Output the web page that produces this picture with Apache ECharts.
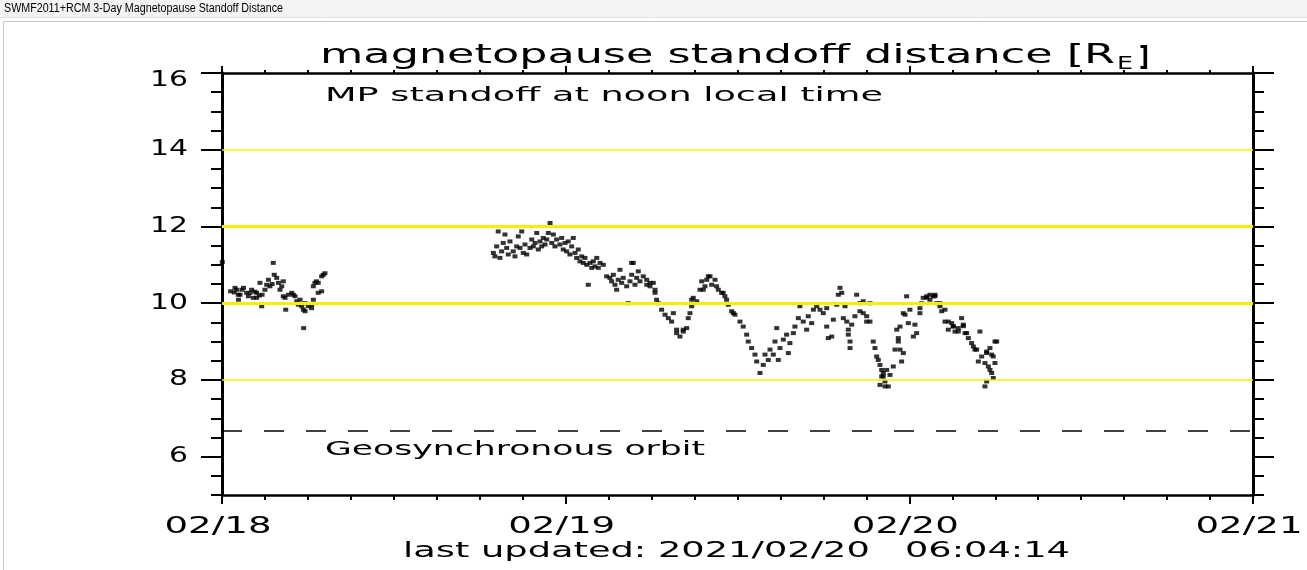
<!DOCTYPE html>
<html>
<head>
<meta charset="utf-8">
<script src="https://cdn.jsdelivr.net/npm/echarts@6/dist/echarts.min.js"></script>
<style>
  html, body { margin: 0; padding: 0; background: #fff; }
  #c { width: 1307px; height: 570px; }
</style>
</head>
<body>
<div id="c"></div>
<script>
// ---- data (hours since 2021-02-18 00:00 UT, standoff distance in R_E) ----
const dayTicks = [0, 24, 48, 72];
const dayLabels = ['02/18', '02/19', '02/20', '02/21'];
const yMajor = [6, 8, 10, 12, 14, 16];
const yLabels = ['6', '8', '10', '12', '14', '16'];
const thinLevels = [8, 14];
const thickLevels = [10, 12];
const geosyncLevel = 6.67;

const segmentA = [
  [0.02,11.07],[0.6,10.31],[0.85,10.28],[0.91,10.40],[1.03,10.35],[1.14,10.22],[1.15,10.09],[1.26,10.22],[1.4,10.35],[1.5,10.40],
  [1.72,10.27],[1.84,10.18],[1.96,10.27],[2.07,10.35],[2.19,10.14],[2.3,10.30],[2.42,10.27],[2.42,10.14],[2.6,10.20],
  [2.65,10.53],[2.77,9.92],[2.8,10.22],[3.0,10.35],[3.12,10.48],[3.24,10.61],[3.35,10.44],[3.5,10.50],
  [3.58,11.05],[3.65,10.74],[3.82,10.66],[3.94,10.53],[4.05,10.35],[4.17,10.44],[4.28,10.57],[4.28,10.18],[4.4,10.14],[4.45,9.83],
  [4.63,10.22],[4.87,10.27],[4.98,10.22],[5.1,10.18],[5.22,10.05],[5.33,9.96],[5.45,10.09],[5.57,9.92],[5.68,9.83],[5.7,9.35],
  [5.8,10.0],[5.8,9.79],[6.03,9.92],[6.26,9.96],[6.26,9.87],[6.38,10.44],[6.38,10.09],[6.49,10.53],[6.6,10.57],[6.72,10.27],[6.72,10.53],
  [6.96,10.70],[6.96,10.31],[7.07,10.74],[7.19,10.78]
];

const segmentB = [
  [18.95,11.31],[19.06,11.22],[19.18,11.48],[19.29,11.87],[19.41,11.18],[19.53,11.35],[19.64,11.57],[19.76,11.79],
  [19.88,11.44],[19.99,11.27],[20.11,11.61],[20.34,11.35],[20.46,11.22],[20.58,11.48],[20.69,11.74],[20.81,11.44],
  [20.93,11.87],[21.04,11.31],[21.16,11.53],[21.28,11.27],[21.51,11.44],[21.63,11.66],[21.74,11.48],[21.86,11.57],
  [21.98,11.83],[22.09,11.40],[22.21,11.61],[22.33,11.48],[22.44,11.70],[22.56,11.53],[22.68,11.66],[22.79,11.83],
  [22.91,12.09],[23.03,11.57],[23.14,11.79],[23.25,11.48],[23.37,11.66],[23.60,11.53],[23.72,11.70],[23.83,11.40],
  [23.95,11.57],[24.07,11.35],[24.18,11.61],[24.30,11.27],[24.42,11.48],[24.53,11.70],[24.65,11.31],[24.77,11.18],
  [24.88,11.40],[25.00,11.09],[25.12,11.22],[25.23,11.05],[25.35,11.18],[25.47,11.00],[25.58,10.48],[25.70,11.05],
  [25.82,10.92],[25.93,11.09],[26.05,10.96],[26.17,11.18],[26.28,10.92],[26.40,11.05],[26.63,11.00],[26.86,10.70],
  [27.09,10.66],[27.21,10.57],[27.33,10.74],[27.44,10.48],[27.56,10.35],[27.67,10.61],[27.79,10.87],[27.91,10.53],
  [28.02,10.66],[28.26,10.44],[28.37,10.00],[28.49,10.57],[28.61,10.74],[28.61,11.05],[28.72,11.05],[28.84,10.48],[28.96,10.66],
  [29.07,10.83],[29.19,10.57],[29.42,10.70],[29.66,10.48],[29.66,10.61],[29.89,10.53],[29.89,10.44],[30.12,10.53],[30.24,10.27],[30.24,10.35],[30.35,10.09],
  [30.47,10.00],[30.70,9.83],[30.94,9.70],[31.17,9.61],[31.40,9.52],[31.52,9.74],[31.75,9.31],[31.75,9.22],[31.98,9.13],
  [32.21,9.26],[32.21,9.31],[32.45,9.35],[32.56,9.61],[32.68,9.74],[32.80,9.92],[32.80,10.09],[32.91,10.14],[33.15,10.05],[33.38,10.35],
  [33.50,10.57],[33.61,10.35],[33.73,10.44],[33.85,10.61],[33.96,10.70],[34.08,10.70],[34.20,10.48],[34.43,10.61],[34.54,10.44],[34.66,10.35],[34.89,10.27],
  [35.0,10.27],[35.12,10.18],[35.24,10.09],
  [35.36,9.96],[35.59,9.79],[35.71,9.74],[35.82,9.70],[36.17,9.52],[36.40,9.39],[36.64,9.18],[36.75,9.00],[36.99,8.83],
  [37.22,8.66],[37.34,8.48],[37.57,8.18],[37.80,8.39],[37.92,8.66],[38.15,8.52],[38.27,8.79],[38.50,8.66],
  [38.62,9.00],[38.74,9.35],[38.85,8.52],[38.97,8.83],[39.20,9.05],[39.43,9.18],[39.55,8.70],[39.66,8.96],
  [39.90,9.22],[40.01,9.39],[40.25,9.61],[40.36,9.92],[40.59,9.52],[40.83,9.31],[40.94,9.66],[41.18,9.48],
  [41.30,9.83],[41.53,9.92],[41.76,9.83],[41.99,9.74],[42.23,9.39],[42.23,9.87],[42.34,9.09],[42.58,9.13],[42.69,9.57],
  [42.93,9.96],[43.04,10.22],[43.16,10.40],[43.28,10.27],[43.39,9.61],[43.51,9.92],[43.63,9.52],[43.74,9.18],[43.74,9.31],
  [43.86,8.83],[43.86,9.00],[43.97,9.44],[44.20,9.66],[44.32,10.22],[44.55,9.79],[44.55,10.00],[44.78,10.05],[44.78,9.74],
  [45.02,9.66],[45.02,9.52],[45.25,9.52],[45.25,10.00],
  [45.48,9.00],[45.60,8.83],[45.72,8.61],[45.83,8.52],[45.95,8.39],[45.95,7.87],[46.07,8.09],[46.07,8.26],[46.18,8.18],[46.18,8.09],[46.30,7.96],[46.30,7.83],
  [46.42,8.26],[46.53,7.83],[46.65,8.13],[46.88,8.35],[47.00,8.79],[47.12,9.31],[47.23,9.09],[47.23,9.00],[47.35,9.39],[47.35,8.79],
  [47.46,8.48],[47.58,8.70],[47.58,9.74],[47.70,9.70],[47.81,10.18],[47.93,9.48],[48.04,9.83],[48.28,9.13],[48.39,9.44],
  [48.51,9.22],[48.74,9.87],[48.74,9.74],[48.86,10.00],[48.97,10.14],[49.21,10.18],[49.21,10.14],[49.44,10.09],[49.44,10.22],[49.67,10.18],[49.79,10.22],[49.79,10.18],
  [49.91,10.00],[50.14,9.92],[50.14,10.00],[50.26,9.79],[50.49,9.52],[50.49,9.83],[50.72,9.31],[50.72,9.52],[50.96,9.48],[51.07,9.40],[51.07,9.39],[51.19,9.26],
  [51.42,9.35],[51.42,9.26],[51.65,9.61],[51.77,9.40],[51.77,9.44],[51.89,9.22],[52.0,9.22],[52.12,9.09],[52.35,8.96],[52.47,8.87],[52.58,8.79],
  [52.70,8.79],[52.82,8.48],[52.93,9.26],[53.05,8.61],[53.28,8.44],[53.28,7.83],[53.40,8.70],[53.40,7.96],[53.40,8.74],
  [53.52,8.35],[53.63,8.83],[53.63,8.26],[53.75,8.18],[53.75,8.66],[53.86,8.61],[53.86,8.05],[53.98,8.44],[53.98,9.00],[54.10,9.00]
];

// ---- texts ----
const windowTitle = 'SWMF2011+RCM 3-Day Magnetopause Standoff Distance';
const titleMain = 'magnetopause standoff distance [R';
const titleSub = 'E';
const titleEnd = ']';
const innerNote = 'MP standoff at noon local time';
const geoNote = 'Geosynchronous orbit';
const updatedNote = 'last updated: 2021/02/20   06:04:14';

const chart = echarts.init(document.getElementById('c'), null, { renderer: 'canvas' });
const BLACK = '#000';

function yAxisDef(pos, major) {
  const a = {
    type: 'value', min: 5, max: 16, position: pos,
    axisLine: { show: true, onZero: false, lineStyle: { color: BLACK, width: 3 } },
    axisTick: { show: true, inside: false, length: major ? 21 : 11, lineStyle: { color: BLACK, width: 2 } },
    axisLabel: { show: false }, splitLine: { show: false }
  };
  if (major) { a.axisTick.customValues = yMajor; }
  else { a.interval = 0.5; }
  return a;
}
function xAxisDef(pos, majorLen, minorLen) {
  return {
    type: 'value', min: 0, max: 72, interval: 24, position: pos,
    axisLine: { show: true, onZero: false, lineStyle: { color: BLACK, width: 2.5 } },
    axisTick: { show: true, inside: false, length: majorLen, lineStyle: { color: BLACK, width: 2 } },
    minorTick: { show: true, splitNumber: 8, length: minorLen, lineStyle: { color: BLACK, width: 2 } },
    axisLabel: { show: false }, splitLine: { show: false }
  };
}

const levelLines = [];
thinLevels.forEach(v => levelLines.push({ yAxis: v, lineStyle: { color: '#f4f400', width: 1.5, type: 'solid' } }));
thickLevels.forEach(v => levelLines.push({ yAxis: v, lineStyle: { color: '#f5f000', width: 3, type: 'solid' } }));
levelLines.push({ yAxis: geosyncLevel, lineStyle: { color: BLACK, width: 1.5, type: [20, 22] } });

chart.setOption({
  animation: false,
  backgroundColor: '#fff',
  grid: { left: 222, right: 54, top: 73, bottom: 75, show: false },
  xAxis: [xAxisDef('bottom', 9, 5), xAxisDef('top', 7, 3)],
  yAxis: [yAxisDef('left', false), yAxisDef('left', true), yAxisDef('right', false), yAxisDef('right', true)],
  series: [
    {
      type: 'line', xAxisIndex: 0, yAxisIndex: 0, data: [], silent: true, z: 1,
      markLine: { silent: true, symbol: ['none', 'none'], label: { show: false }, data: levelLines }
    },
    {
      type: 'scatter', xAxisIndex: 0, yAxisIndex: 0, silent: true, z: 3,
      symbol: 'rect', symbolSize: [5, 4], itemStyle: { color: BLACK },
      data: segmentA.concat(segmentB)
    }
  ]
});

// ---- text placed from the axes' own scales ----
const mctx = document.createElement('canvas').getContext('2d');
const FAM = '"DejaVu Sans", sans-serif';
function measure(text, size, weight, fam) {
  mctx.font = (weight || 'normal') + ' ' + size + 'px ' + (fam || FAM);
  return mctx.measureText(text).width;
}
// baseline -> y for verticalAlign 'middle'
function mid(baseline, size) { return baseline - 0.346 * size; }
function textEl(text, x, y, size, sx, align, weight, fam) {
  return {
    type: 'text', x: x, y: y, scaleX: sx, scaleY: 1, silent: true, z: 10,
    style: {
      text: text, x: 0, y: 0, fill: BLACK,
      fontFamily: fam || FAM, fontSize: size, fontWeight: weight || 'normal',
      align: align, verticalAlign: 'middle'
    }
  };
}
const els = [];
// window title bar
els.push({ type: 'rect', shape: { x: 0, y: 0, width: 1307, height: 17 }, style: { fill: '#f3f3f3' }, silent: true, z: 0 });
els.push({ type: 'line', shape: { x1: 0, y1: 17.5, x2: 1307, y2: 17.5 }, style: { stroke: '#e2e2e2', lineWidth: 1 }, silent: true, z: 0 });
els.push({ type: 'rect', shape: { x: 3.5, y: 21.5, width: 1310, height: 560 }, style: { fill: 'none', stroke: '#c6c6c6', lineWidth: 1 }, silent: true, z: 0 });
const wtFam = '"Liberation Sans", Arial, sans-serif';
els.push(textEl(windowTitle, 4, mid(12.5, 12), 12, 279 / measure(windowTitle, 12, 'normal', wtFam), 'left', 'normal', wtFam));

// title
const tSize = 27;
els.push(textEl(titleMain, 320, mid(65, tSize), tSize, 795 / measure(titleMain, tSize), 'left'));
els.push(textEl(titleSub, 1117, mid(70, 17), 17, 16 / measure(titleSub, 17), 'left'));
els.push(textEl(titleEnd, 1139, mid(67, tSize), tSize, 10 / measure(titleEnd, tSize, 'bold'), 'left', 'bold'));

// y tick labels (left)
const ySize = 21;
const ySx = 38 / measure('10', ySize);
yMajor.forEach((v, i) => {
  let py = chart.convertToPixel({ yAxisIndex: 0 }, v);
  if (i === yMajor.length - 1) py += 8; // top label sits just below the frame corner
  els.push(textEl(yLabels[i], 188, py, ySize, ySx, 'right'));
});
// x tick labels
const xSize = 23;
const xSx = 107 / measure('02/18', xSize);
dayTicks.forEach((t, i) => {
  const px = chart.convertToPixel({ xAxisIndex: 0 }, t);
  els.push(textEl(dayLabels[i], px - 4, mid(535, xSize), xSize, xSx, 'center'));
});
// notes inside plot
els.push(textEl(innerNote, 325, mid(103, 20), 20, 558 / measure(innerNote, 20), 'left'));
const gy = chart.convertToPixel({ yAxisIndex: 0 }, geosyncLevel);
els.push(textEl(geoNote, 325, mid(gy + 26, 20), 20, 380 / measure(geoNote, 20), 'left'));
// last updated
els.push(textEl(updatedNote, 403, mid(559, 21), 21, 667 / measure(updatedNote, 21), 'left'));

chart.setOption({ graphic: { elements: els } });
</script>
</body>
</html>
